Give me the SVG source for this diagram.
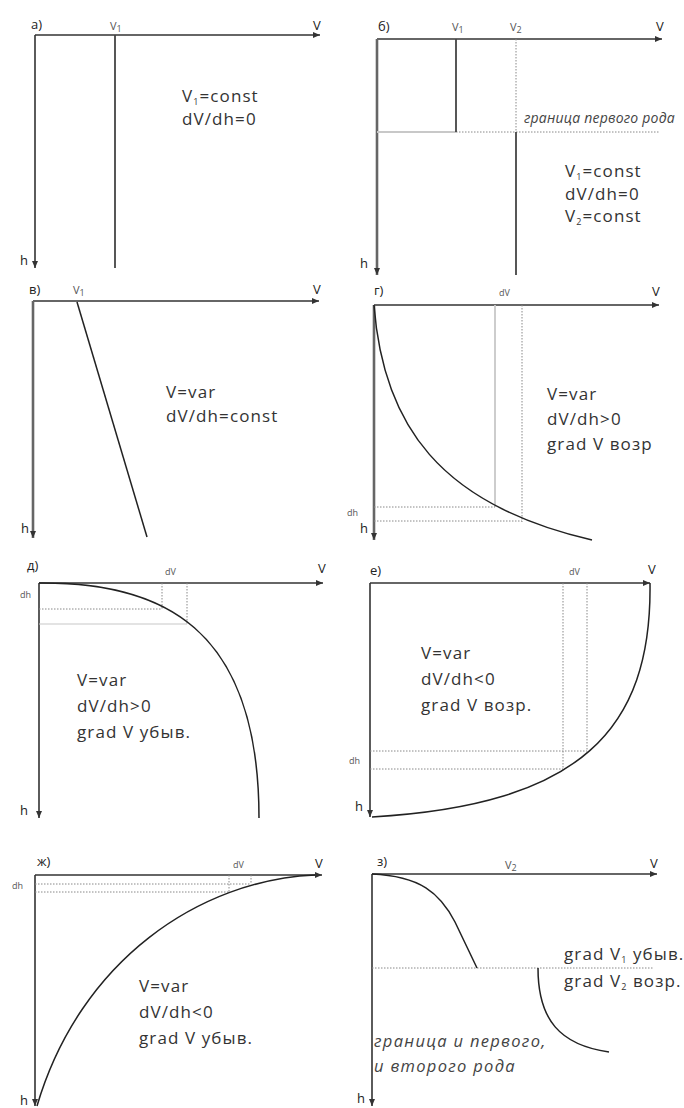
<svg xmlns="http://www.w3.org/2000/svg" width="684" height="1108" viewBox="0 0 684 1108">
<style>
.ax{stroke:#333;stroke-width:1.6;fill:none}
.axg{stroke:#666;stroke-width:2.6;fill:none}
.ln{stroke:#444;stroke-width:1.8;fill:none}
.cv{stroke:#222;stroke-width:1.5;fill:none}
.dot{stroke:#888;stroke-width:1;stroke-dasharray:1.5,1.5;fill:none}
.lg{stroke:#c8c8c8;stroke-width:1.8;fill:none}
.t{font-family:"Open Sans","Liberation Sans",sans-serif;font-size:17px;letter-spacing:1.1px;fill:#333}
.it{font-family:"Open Sans","Liberation Sans",sans-serif;font-size:14px;font-style:italic;letter-spacing:0.2px;fill:#444}
.it2{font-family:"Open Sans","Liberation Sans",sans-serif;font-size:16.5px;font-style:italic;letter-spacing:1.3px;fill:#444}
.lb{font-family:"Open Sans","Liberation Sans",sans-serif;font-size:13px;fill:#222}
.sv{font-family:"Open Sans","Liberation Sans",sans-serif;font-size:11px;fill:#555}
.sm{font-family:"Open Sans","Liberation Sans",sans-serif;font-size:9px;fill:#555}
.sub{font-size:9px}
</style>
<defs>
<marker id="ar" markerUnits="userSpaceOnUse" markerWidth="8" markerHeight="7" refX="7" refY="3.5" orient="auto">
<path d="M0,0.5 L7,3.5 L0,6.5 z" fill="#333"/>
</marker>
</defs>

<g id="panel-a">
<path class="ax" d="M35,35 H320" marker-end="url(#ar)"/>
<path class="ax" d="M35,35 V268" marker-end="url(#ar)"/>
<text class="lb" x="31" y="29">а)</text>
<text class="sv" x="110" y="30">V<tspan class="sub" dy="2">1</tspan></text>
<text class="lb" x="313" y="30">V</text>
<text class="lb" x="20" y="265">h</text>
<path class="ln" d="M115,35 V268"/>
<text class="t" x="182" y="102">V<tspan class="sub" dy="3">1</tspan><tspan dy="-3">=const</tspan></text>
<text class="t" x="182" y="125">dV/dh=0</text>
</g>

<g id="panel-b">
<path class="ax" d="M377,39 H662" marker-end="url(#ar)"/>
<path class="axg" d="M377,39 V275" marker-end="url(#ar)"/>
<text class="lb" x="378" y="31">б)</text>
<text class="sv" x="452" y="31">V<tspan class="sub" dy="2">1</tspan></text>
<text class="sv" x="510" y="31">V<tspan class="sub" dy="2">2</tspan></text>
<text class="lb" x="656" y="31">V</text>
<text class="lb" x="360" y="268">h</text>
<path class="lg" d="M377,132 H456"/>
<path class="dot" d="M456,132 H660"/>
<path class="ln" d="M456,39 V132"/>
<path class="dot" d="M516,39 V132"/>
<path class="ln" d="M516,132 V275"/>
<text class="it" x="524" y="123">граница первого рода</text>
<text class="t" x="565" y="177">V<tspan class="sub" dy="3">1</tspan><tspan dy="-3">=const</tspan></text>
<text class="t" x="565" y="200">dV/dh=0</text>
<text class="t" x="565" y="222">V<tspan class="sub" dy="3">2</tspan><tspan dy="-3">=const</tspan></text>
</g>

<g id="panel-v">
<path class="ax" d="M33,301 H319" marker-end="url(#ar)"/>
<path class="axg" d="M33,301 V538" marker-end="url(#ar)"/>
<text class="lb" x="29" y="294">в)</text>
<text class="sv" x="73" y="294">V<tspan class="sub" dy="2">1</tspan></text>
<text class="lb" x="313" y="294">V</text>
<text class="lb" x="21" y="533">h</text>
<path class="cv" d="M77,302 L147,537"/>
<text class="t" x="166" y="398">V=var</text>
<text class="t" x="166" y="422">dV/dh=const</text>
</g>

<g id="panel-g">
<path class="ax" d="M374,305 H659" marker-end="url(#ar)"/>
<path class="axg" d="M374,305 V540" marker-end="url(#ar)"/>
<text class="lb" x="374" y="295">г)</text>
<text class="sm" x="499" y="296">dV</text>
<text class="lb" x="652" y="296">V</text>
<text class="sm" x="347" y="516">dh</text>
<text class="lb" x="360" y="533">h</text>
<path class="lg" d="M495,305 V507"/>
<path class="dot" d="M522,305 V522"/>
<path class="dot" d="M374,507 H495"/>
<path class="dot" d="M374,521 H522"/>
<path class="cv" d="M374,305 C383,425 440,505 592,540"/>
<text class="t" x="547" y="400">V=var</text>
<text class="t" x="547" y="425">dV/dh&gt;0</text>
<text class="t" x="547" y="450">grad V возр</text>
</g>

<g id="panel-d">
<path class="ax" d="M39,583 H323" marker-end="url(#ar)"/>
<path class="ax" d="M39,583 V818" marker-end="url(#ar)"/>
<text class="lb" x="27" y="570">д)</text>
<text class="sm" x="165" y="575">dV</text>
<text class="lb" x="318" y="573">V</text>
<text class="sm" x="20" y="598">dh</text>
<text class="lb" x="20" y="815">h</text>
<path class="dot" d="M162,583 V609"/>
<path class="dot" d="M187,583 V624"/>
<path class="dot" d="M39,609 H162"/>
<path class="lg" d="M39,624 H187" style="stroke-width:1.2"/>
<path class="cv" d="M39,583 C160,582 259,625 259,818"/>
<text class="t" x="77" y="686">V=var</text>
<text class="t" x="77" y="712">dV/dh&gt;0</text>
<text class="t" x="77" y="738">grad V убыв.</text>
</g>

<g id="panel-e">
<path class="ax" d="M370,583 H650" marker-end="url(#ar)"/>
<path class="ax" d="M370,583 V817" marker-end="url(#ar)"/>
<text class="lb" x="370" y="575">е)</text>
<text class="sm" x="569" y="575">dV</text>
<text class="lb" x="648" y="574">V</text>
<text class="sm" x="349" y="764">dh</text>
<text class="lb" x="355" y="811">h</text>
<path class="dot" d="M563,583 V769"/>
<path class="dot" d="M587,583 V751"/>
<path class="dot" d="M370,751 H587"/>
<path class="dot" d="M370,769 H563"/>
<path class="cv" d="M650,583 C652,730 580,805 372,817"/>
<text class="t" x="421" y="659">V=var</text>
<text class="t" x="421" y="685">dV/dh&lt;0</text>
<text class="t" x="421" y="711">grad V возр.</text>
</g>

<g id="panel-zh">
<path class="ax" d="M35,875 H322" marker-end="url(#ar)"/>
<path class="ax" d="M35,875 V1106" marker-end="url(#ar)"/>
<text class="lb" x="37" y="866">ж)</text>
<text class="sm" x="233" y="868">dV</text>
<text class="lb" x="315" y="868">V</text>
<text class="sm" x="12" y="889">dh</text>
<text class="lb" x="20" y="1105">h</text>
<path class="dot" d="M35,884 H251"/>
<path class="dot" d="M35,892 H229"/>
<path class="dot" d="M229,875 V892"/>
<path class="dot" d="M251,875 V884"/>
<path class="cv" d="M37,1106 C80,960 200,880 315,875"/>
<text class="t" x="139" y="992">V=var</text>
<text class="t" x="139" y="1018">dV/dh&lt;0</text>
<text class="t" x="139" y="1044">grad V убыв.</text>
</g>

<g id="panel-z">
<path class="ax" d="M372,874 H657" marker-end="url(#ar)"/>
<path class="ax" d="M372,874 V1106" marker-end="url(#ar)"/>
<text class="lb" x="377" y="866">з)</text>
<text class="sv" x="505" y="869">V<tspan class="sub" dy="2">2</tspan></text>
<text class="lb" x="650" y="868">V</text>
<text class="lb" x="357" y="1103">h</text>
<path class="dot" d="M372,968 H654"/>
<path class="cv" d="M372,874 C420,876 440,893 455,922 L477,968"/>
<path class="cv" d="M538,968 C538,1020 560,1045 609,1052"/>
<text class="t" x="564" y="960">grad V<tspan class="sub" dy="3">1</tspan><tspan dy="-3"> убыв.</tspan></text>
<text class="t" x="564" y="987">grad V<tspan class="sub" dy="3">2</tspan><tspan dy="-3"> возр.</tspan></text>
<text class="it2" x="374" y="1047">граница и первого,</text>
<text class="it2" x="374" y="1072">и второго рода</text>
</g>
</svg>
